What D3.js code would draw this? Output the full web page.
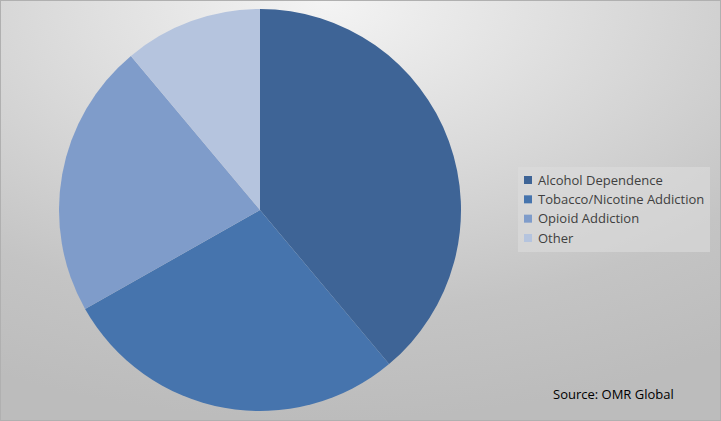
<!DOCTYPE html>
<html><head><meta charset="utf-8">
<script src="https://cdn.jsdelivr.net/npm/d3@7"></script>
<style>body{margin:0;background:#fff}svg{display:block}</style>
</head><body>
<script>
const categories = ["Alcohol Dependence","Tobacco/Nicotine Addiction","Opioid Addiction","Other"];
const values = [38.9, 27.9, 22.1, 11.1];
const colors = ["#3e6496","#4674ad","#7f9cca","#b5c4de"];
const sourceText = "Source: OMR Global";

const W = 721, H = 421;
const svg = d3.select("body").append("svg").attr("width", W).attr("height", H);
const defs = svg.append("defs");
const g = defs.append("radialGradient").attr("id","bg").attr("cx","0.45").attr("cy","0").attr("r","1.0")
  .attr("gradientUnits","objectBoundingBox");
g.append("stop").attr("offset","0").attr("stop-color","#f4f4f4");
g.append("stop").attr("offset","0.75").attr("stop-color","#c4c4c4");
g.append("stop").attr("offset","1").attr("stop-color","#bcbcbc");
svg.append("rect").attr("x",0.5).attr("y",0.5).attr("width",W-1).attr("height",H-1)
  .attr("fill","url(#bg)").attr("stroke","#b0b0b0");

const cx = 260, cy = 210, r = 201;
const pie = d3.pie().sort(null).value(d => d)(values);
const arc = d3.arc().innerRadius(0).outerRadius(r);
svg.append("g").attr("transform",`translate(${cx},${cy})`)
  .selectAll("path").data(pie).join("path")
  .attr("d", arc).attr("fill", (d,i) => colors[i]);

const lg = svg.append("g").attr("transform","translate(518,167)");
lg.append("rect").attr("width",192).attr("height",85).attr("fill","#dcdcdc").attr("fill-opacity",0.6);
const y = d3.scalePoint().domain(categories).range([13, 71]);
categories.forEach((c,i) => {
  lg.append("rect").attr("x",6).attr("y",y(c)-4).attr("width",8).attr("height",8).attr("fill",colors[i]);
  lg.append("text").attr("x",20).attr("y",y(c)+4.5).text(c)
    .attr("font-family","'Open Sans', sans-serif").attr("font-size",13).attr("fill","#404040");
});
svg.append("text").attr("x",553).attr("y",399).text(sourceText)
  .attr("font-family","'Open Sans', sans-serif").attr("font-size",13).attr("fill","#000");
</script>
</body></html>
